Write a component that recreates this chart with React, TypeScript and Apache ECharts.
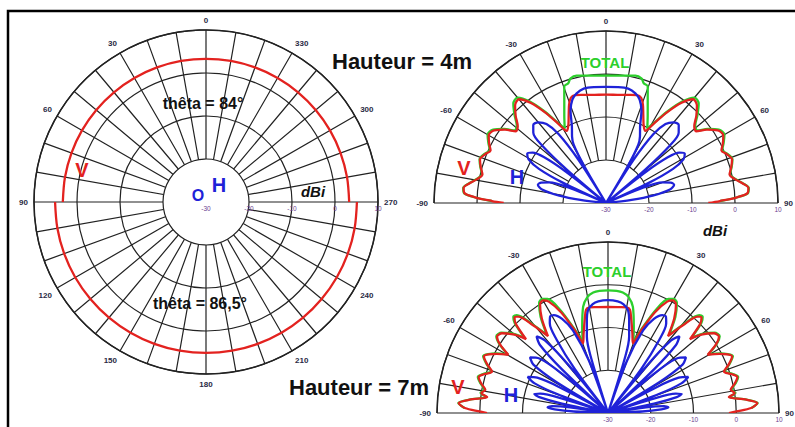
import React, { useEffect, useRef } from 'react';
import * as echarts from 'echarts';

// ---------- Left chart: azimuth pattern (display angle 0 at top, counter-clockwise) ----------
const AZ_LABEL_STEP = 30;
const V_THETA84_DBI = 3.3;   // upper half, thêta = 84°
const V_THETA865_DBI = 5.1;  // lower half, thêta = 86,5°
const AZ_UPPER = [90, 80, 70, 60, 50, 40, 30, 20, 10, 0, 350, 340, 330, 320, 310, 300, 290, 280, 270];
const AZ_LOWER = [90, 100, 110, 120, 130, 140, 150, 160, 170, 180, 190, 200, 210, 220, 230, 240, 250, 260, 270];

// ---------- Right charts: elevation patterns (θ from zenith, right half; mirrored) ----------
// Hauteur = 4m
const H4_V_THETA = [0, 6, 12, 16, 18.5, 20.5, 23, 26, 28.6, 31, 34, 37, 40, 43, 46, 49, 51.5, 54, 57, 60, 63, 65.5, 68, 71, 74, 77, 79.5, 82, 84, 86, 87.5, 89, 90];
const H4_V_DBI = [-4.8, -4.7, -4.3, -3.9, -4.2, -5.5, -7.8, -10, -10.9, -8.5, -4.5, -0.8, 1.5, 1.0, -0.8, -2.8, -3.2, -1.0, 1.0, 1.5, 0.5, -0.5, 0.3, 1.0, 0.3, -0.5, 0.5, 2.2, 3.3, 3.0, 0.5, -3.5, -6.2];
const H4_T_THETA = [0, 8, 13, 16, 17.5, 19.7, 22, 25.3, 29, 31, 34, 37, 40, 43, 46, 49, 51.5, 54, 57, 60, 63, 65.5, 68, 71, 74, 77, 79.5, 82, 84, 86, 87.5, 89];
const H4_T_DBI = [-0.4, -0.1, 0.4, 0.1, -0.8, -1.2, -4.1, -7.3, -10.2, -8.2, -4.2, -0.4, 2.0, 1.6, -0.4, -2.5, -2.9, -0.7, 1.3, 1.8, 0.7, -0.3, 0.5, 1.1, 0.4, -0.4, 0.6, 2.3, 3.4, 3.1, 0.6, -3.4];
const H4_H_THETA = [0, 6, 11, 15, 18, 21, 24, 27, 29, 30.5, 31, 32.5, 34.5, 37, 40, 43, 46, 48, 49.5, 50.5, 52, 53.5, 55.5, 58, 60.5, 63, 64.8, 66, 67.5, 70, 72.5, 75, 78, 81, 83, 84, 90];
const H4_H_DBI = [-3.0, -2.9, -2.9, -3.6, -4.7, -7, -10.5, -12.6, -14.5, -20, -30, -18, -10.5, -7, -5.5, -5.2, -6.5, -10, -18, -30, -18, -12, -9.3, -8.4, -9.3, -12.5, -19, -30, -21, -16, -14.2, -13.6, -14.8, -19, -24, -30, -30];

// Hauteur = 7m
const H7_V_THETA = [0, 6, 10, 12, 14, 17, 19.7, 22, 25, 28, 30, 32, 35, 38, 40.5, 43, 44.5, 46, 48, 50, 53, 55.5, 57.5, 59.7, 62, 65.5, 68, 70.4, 72.5, 74.5, 77, 79.3, 81, 82.5, 84.5, 86.2, 88, 89.3, 90];
const H7_V_DBI = [-5.2, -5.1, -4.9, -5.3, -7.5, -10.5, -12.7, -9, -4, -0.5, 0.4, 0, -3, -7.2, -3, 0.8, 1.2, 0, -4.2, -1.5, 1, 1.5, 0, -3, -0.5, 1.9, 0.5, -1.2, 0.3, 1.4, 0.4, -0.8, 0, -1.5, 2.5, 5.0, 3.5, 0, -1.7];
const H7_T_THETA = [0, 4, 7, 10, 13.2, 16.7, 19.7, 22, 25, 28, 30, 32, 35, 38, 40.5, 43, 44.5, 46, 48, 50, 53, 55.5, 57.5, 59.7, 62, 65.5, 68, 70.4, 72.5, 74.5, 77, 79.3, 81, 82.5, 84.5, 86.2, 88];
const H7_T_DBI = [-1.3, -1.35, -1.6, -2.4, -4.5, -9, -12.4, -8.5, -3.2, 0.2, 0.8, 0.4, -2.5, -6.8, -2.5, 1.3, 1.6, 0.4, -3.8, -1.2, 1.2, 1.7, 0.2, -2.8, -0.3, 2.1, 0.7, -1.0, 0.5, 1.6, 0.6, -0.6, 0.2, -1.3, 2.6, 5.1, 3.6];
const H7_H_THETA = [0, 5, 8, 11, 13, 15.5, 17, 18, 20, 23, 26, 29, 31, 33, 35, 37, 38, 39.5, 41, 43, 45, 46.5, 48, 49.5, 51.5, 54.5, 57, 59, 60.5, 62, 63.5, 65.8, 68, 69.5, 71, 72.5, 74, 75.5, 77, 78.5, 80, 81.5, 83, 84.5, 86, 87.5, 88.5, 90];
const H7_H_DBI = [-3.6, -3.8, -4.3, -5.5, -8, -11.5, -16, -30, -17, -9, -5.5, -3.8, -3.7, -5, -9, -17, -30, -15, -7.5, -5.5, -7.5, -15, -30, -16, -9.5, -7.6, -9.2, -16, -30, -17, -11.5, -9.4, -11.5, -17, -30, -19, -13.5, -12.2, -13.5, -19, -30, -21, -16.8, -15.8, -17.5, -22, -30, -30];

const R_MIN = -30;
const R_MAX = 10;
const R_STEP = 10;

const RED = '#e3221f';
const BLUE = '#1f22d8';
const GREEN = '#2ccf2c';
const GRID = '#222222';
const FONT = '"Liberation Sans", Arial, sans-serif';

// build mirrored elevation path from -90 to 90, in axis units u = 90 - θ
function mirrored(thetas: number[], vals: number[]) {
  const out: number[][] = [];
  for (let i = thetas.length - 1; i >= 0; i--) out.push([vals[i], 90 + thetas[i]]);
  for (let i = 1; i < thetas.length; i++) out.push([vals[i], 90 - thetas[i]]);
  return out;
}
function azData(angles: number[], val: number) {
  return angles.map((a) => [val, a === 270 && angles[angles.length - 2] > 270 ? 360 : (a + 90) % 360]);
}

const POLARS = [
  { center: [206, 202], radius: 172 },
  { center: [606, 203], radius: 172 },
  { center: [608, 413], radius: 171 },
];

export default function App() {
  const ref = useRef<HTMLDivElement>(null);
  useEffect(() => {
    if (!ref.current) return;
    const chart = echarts.init(ref.current, undefined, { renderer: 'svg' });

    const gridLine = { show: true, lineStyle: { color: GRID, width: 1.2 } };
    const angleLabel = { color: '#2a2a44', fontSize: 8, fontWeight: 'bold' as const, fontFamily: FONT, margin: 6 };
    const radiusAxes = [0, 1, 2].map((i) => ({
      polarIndex: i,
      type: 'value',
      min: R_MIN,
      max: R_MAX,
      interval: R_STEP,
      axisLine: { show: false },
      axisTick: { show: false },
      splitLine: gridLine,
      axisLabel: {
        color: '#6b3f8f',
        fontSize: 6.5,
        fontFamily: FONT,
        margin: -3,
        verticalAlign: 'top',
        align: 'center',
      },
      z: 5,
    }));
    const angleAxes = [
      {
        polarIndex: 0,
        type: 'value',
        min: 0,
        max: 360,
        interval: 10,
        startAngle: 0,
        clockwise: false,
        axisLine: { show: true, lineStyle: { color: GRID, width: 1.5 } },
        axisTick: { show: false },
        splitLine: gridLine,
        axisLabel: {
          ...angleLabel,
          formatter: (v: number) => (v % AZ_LABEL_STEP === 0 && v < 360 ? String((v - 90 + 360) % 360) : ''),
        },
        z: 0,
      },
      ...[1, 2].map((i) => ({
        polarIndex: i,
        type: 'value',
        min: 0,
        max: 180,
        interval: 10,
        startAngle: 0,
        endAngle: 180,
        clockwise: false,
        axisLine: { show: true, lineStyle: { color: GRID, width: 1.5 } },
        axisTick: { show: false },
        splitLine: gridLine,
        axisLabel: {
          ...angleLabel,
          formatter: (v: number) => (v % 30 === 0 ? String(90 - v) : ''),
        },
        z: 0,
      })),
    ];

    const line = (polarIndex: number, data: number[][], color: string, smooth = 0.3) => ({
      type: 'line',
      coordinateSystem: 'polar',
      polarIndex,
      data,
      showSymbol: false,
      smooth,
      silent: true,
      lineStyle: { color, width: 2.3 },
      z: 6,
    });

    const txt = (text: string, x: number, y: number, font: string, fill: string) => ({
      type: 'text',
      x,
      y,
      z: 20,
      style: { text, font, fill, align: 'center', verticalAlign: 'middle' },
    });

    const innerR = (p: { radius: number }) => (p.radius * (-20 - R_MIN)) / (R_MAX - R_MIN);

    chart.setOption({
      animation: false,
      backgroundColor: '#ffffff',
      polar: POLARS,
      angleAxis: angleAxes,
      radiusAxis: radiusAxes,
      series: [
        line(0, azData(AZ_UPPER, V_THETA84_DBI), RED, 0.33),
        line(0, azData(AZ_LOWER, V_THETA865_DBI), RED, 0.33),
        line(1, mirrored(H4_T_THETA, H4_T_DBI), GREEN),
        line(1, mirrored(H4_V_THETA, H4_V_DBI), RED),
        line(1, mirrored(H4_H_THETA, H4_H_DBI), BLUE),
        line(2, mirrored(H7_T_THETA, H7_T_DBI), GREEN),
        line(2, mirrored(H7_V_THETA, H7_V_DBI), RED),
        line(2, mirrored(H7_H_THETA, H7_H_DBI), BLUE),
      ],
      graphic: [
        {
          type: 'circle',
          z: 1,
          shape: { cx: POLARS[0].center[0], cy: POLARS[0].center[1], r: innerR(POLARS[0]) },
          style: { fill: '#ffffff' },
        },
        ...[1, 2].map((i) => ({
          type: 'sector',
          z: 1,
          shape: {
            cx: POLARS[i].center[0],
            cy: POLARS[i].center[1],
            r: innerR(POLARS[i]),
            startAngle: Math.PI,
            endAngle: Math.PI * 2,
          },
          style: { fill: '#ffffff' },
        })),
        {
          type: 'rect',
          z: 30,
          shape: { x: 8, y: 11, width: 800, height: 440 },
          style: { fill: 'none', stroke: '#000000', lineWidth: 2.5 },
        },
        txt('thêta = 84°', 203, 103, `bold 16px ${FONT}`, '#111'),
        txt('thêta = 86,5°', 200, 303, `bold 16px ${FONT}`, '#111'),
        txt('Hauteur = 4m', 402, 61, `bold 22px ${FONT}`, '#111'),
        txt('Hauteur = 7m', 359, 387, `bold 22px ${FONT}`, '#111'),
        txt('TOTAL', 605, 62, `bold 15px ${FONT}`, GREEN),
        txt('TOTAL', 607, 271, `bold 15px ${FONT}`, GREEN),
        txt('V', 82, 170, `bold 20px ${FONT}`, RED),
        txt('V', 464, 168, `bold 20px ${FONT}`, RED),
        txt('V', 458, 387, `bold 20px ${FONT}`, RED),
        txt('H', 219, 185, `bold 20px ${FONT}`, BLUE),
        txt('H', 517, 177, `bold 20px ${FONT}`, BLUE),
        txt('H', 511, 395, `bold 20px ${FONT}`, BLUE),
        txt('O', 198, 195, `bold 16px ${FONT}`, BLUE),
        txt('dBi', 313, 191, `italic bold 15px ${FONT}`, '#111'),
        txt('dBi', 715, 230, `italic bold 15px ${FONT}`, '#111'),
      ],
    });
    return () => chart.dispose();
  }, []);
  return <div ref={ref} style={{ position: 'absolute', left: 0, top: 0, width: 795, height: 427 }} />;
}
